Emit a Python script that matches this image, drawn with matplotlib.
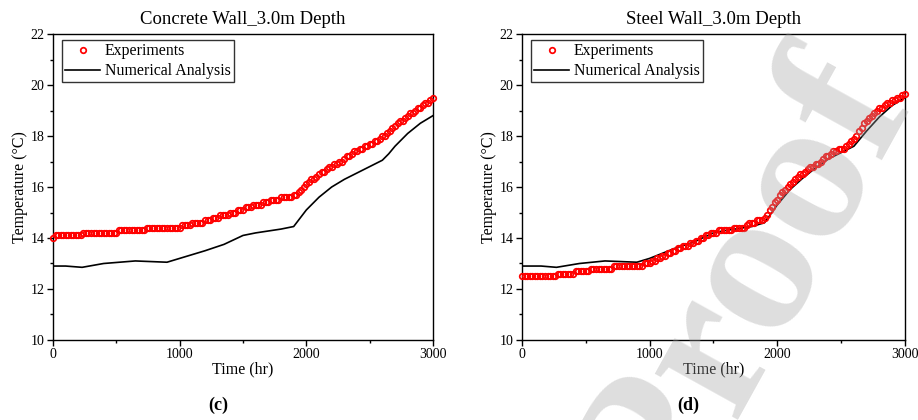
import numpy as np
import matplotlib
matplotlib.use("Agg")
import matplotlib.pyplot as plt

plt.rcParams['font.family'] = ['Liberation Serif', 'DejaVu Serif']

# measured temperatures, logged every 20 hr
exp_time = np.arange(0, 3001, 20)

concrete_exp = [
    14.0, 14.1, 14.1, 14.1, 14.1, 14.1, 14.1, 14.1, 14.1, 14.1,
    14.1, 14.1, 14.2, 14.2, 14.2, 14.2, 14.2, 14.2, 14.2, 14.2,
    14.2, 14.2, 14.2, 14.2, 14.2, 14.2, 14.3, 14.3, 14.3, 14.3,
    14.3, 14.3, 14.3, 14.3, 14.3, 14.3, 14.3, 14.4, 14.4, 14.4,
    14.4, 14.4, 14.4, 14.4, 14.4, 14.4, 14.4, 14.4, 14.4, 14.4,
    14.4, 14.5, 14.5, 14.5, 14.5, 14.6, 14.6, 14.6, 14.6, 14.6,
    14.7, 14.7, 14.7, 14.8, 14.8, 14.8, 14.9, 14.9, 14.9, 14.9,
    15.0, 15.0, 15.0, 15.1, 15.1, 15.1, 15.2, 15.2, 15.2, 15.3,
    15.3, 15.3, 15.3, 15.4, 15.4, 15.4, 15.5, 15.5, 15.5, 15.5,
    15.6, 15.6, 15.6, 15.6, 15.6, 15.7, 15.7, 15.8, 15.9, 16.0,
    16.1, 16.2, 16.3, 16.3, 16.4, 16.5, 16.6, 16.6, 16.7, 16.8,
    16.8, 16.9, 16.9, 17.0, 17.0, 17.1, 17.2, 17.2, 17.3, 17.4,
    17.4, 17.5, 17.5, 17.6, 17.6, 17.7, 17.7, 17.8, 17.8, 17.9,
    18.0, 18.0, 18.1, 18.2, 18.3, 18.4, 18.5, 18.6, 18.6, 18.7,
    18.8, 18.9, 18.9, 19.0, 19.1, 19.1, 19.2, 19.3, 19.3, 19.4,
    19.5]

steel_exp = [
    12.5, 12.5, 12.5, 12.5, 12.5, 12.5, 12.5, 12.5, 12.5, 12.5,
    12.5, 12.5, 12.5, 12.5, 12.6, 12.6, 12.6, 12.6, 12.6, 12.6,
    12.6, 12.7, 12.7, 12.7, 12.7, 12.7, 12.7, 12.8, 12.8, 12.8,
    12.8, 12.8, 12.8, 12.8, 12.8, 12.8, 12.9, 12.9, 12.9, 12.9,
    12.9, 12.9, 12.9, 12.9, 12.9, 12.9, 12.9, 12.9, 13.0, 13.0,
    13.0, 13.1, 13.1, 13.2, 13.2, 13.3, 13.3, 13.4, 13.4, 13.5,
    13.5, 13.6, 13.6, 13.7, 13.7, 13.7, 13.8, 13.8, 13.9, 13.9,
    14.0, 14.0, 14.1, 14.1, 14.2, 14.2, 14.2, 14.3, 14.3, 14.3,
    14.3, 14.3, 14.3, 14.4, 14.4, 14.4, 14.4, 14.4, 14.5, 14.6,
    14.6, 14.6, 14.7, 14.7, 14.7, 14.8, 14.9, 15.1, 15.2, 15.4,
    15.5, 15.7, 15.8, 15.9, 16.0, 16.1, 16.2, 16.3, 16.4, 16.5,
    16.5, 16.6, 16.7, 16.8, 16.8, 16.9, 16.9, 17.0, 17.1, 17.2,
    17.2, 17.3, 17.4, 17.4, 17.5, 17.5, 17.5, 17.6, 17.7, 17.8,
    17.9, 18.0, 18.2, 18.3, 18.5, 18.6, 18.7, 18.8, 18.9, 19.0,
    19.1, 19.1, 19.2, 19.3, 19.3, 19.4, 19.4, 19.5, 19.5, 19.6,
    19.65]

# simulated temperatures
concrete_num_t = [0, 100, 230, 400, 650, 900, 1000, 1200, 1350, 1500, 1600,
                  1800, 1900, 2000, 2100, 2200, 2300, 2400, 2500, 2600, 2650,
                  2700, 2800, 2900, 3000]
concrete_num = [12.9, 12.9, 12.85, 13.0, 13.1, 13.05, 13.2, 13.5, 13.75, 14.1,
                14.2, 14.35, 14.45, 15.1, 15.6, 16.0, 16.3, 16.55, 16.8, 17.05,
                17.3, 17.6, 18.1, 18.5, 18.8]

steel_num_t = [0, 150, 270, 450, 650, 900, 1000, 1200, 1350, 1500, 1600,
               1800, 1900, 2000, 2100, 2200, 2300, 2400, 2500, 2600, 2700,
               2800, 2900, 3000]
steel_num = [12.9, 12.9, 12.85, 13.0, 13.1, 13.05, 13.2, 13.6, 13.85, 14.2,
             14.3, 14.45, 14.6, 15.3, 15.9, 16.35, 16.75, 17.1, 17.35, 17.6,
             18.2, 18.75, 19.2, 19.5]

panels = [
    ("Concrete Wall_3.0m Depth", "(c)", concrete_exp, concrete_num_t, concrete_num),
    ("Steel Wall_3.0m Depth", "(d)", steel_exp, steel_num_t, steel_num),
]

fig = plt.figure(figsize=(9.18, 4.2), dpi=100)
axes = [fig.add_axes([0.0577, 0.1905, 0.414, 0.7285]),
        fig.add_axes([0.5686, 0.1905, 0.4172, 0.7285])]

for ax, (title, tag, exp, nt, nv) in zip(axes, panels):
    ax.plot(exp_time, exp, 'o', color='red', mfc='none', ms=4.0, mew=1.25,
            label='Experiments', clip_on=False, zorder=3)
    ax.plot(nt, nv, '-', color='black', lw=1.2, label='Numerical Analysis', zorder=2)
    ax.set_xlim(0, 3000)
    ax.set_ylim(10, 22)
    ax.set_xticks([0, 1000, 2000, 3000])
    ax.set_xticks([500, 1500, 2500], minor=True)
    ax.set_yticks([10, 12, 14, 16, 18, 20, 22])
    ax.set_yticks(np.arange(11, 22, 2), minor=True)
    ax.tick_params(direction='out', length=4, width=1, labelsize=10, pad=2,
                   top=False, right=False)
    ax.tick_params(which='minor', direction='out', length=2.5, width=1,
                   top=False, right=False)
    for sp in ax.spines.values():
        sp.set_linewidth(1)
    ax.set_title(title, fontsize=13.5, pad=7)
    ax.set_xlabel('Time (hr)', fontsize=11.5, labelpad=0)
    ax.set_ylabel('Temperature (\u00b0C)', fontsize=11.5, labelpad=2)
    leg = ax.legend(loc='upper left', bbox_to_anchor=(0.024, 0.98), fontsize=11.4,
                    frameon=True, fancybox=False, borderpad=0.2, handlelength=2.2,
                    handletextpad=0.3, labelspacing=0.25, borderaxespad=0,
                    numpoints=1)
    leg.get_frame().set_edgecolor('black')
    leg.get_frame().set_linewidth(1)
    bb = ax.get_position()
    fig.text((bb.x0 + bb.x1) / 2 - 0.027, 0.035, tag, fontsize=13,
             fontweight='bold', ha='center', va='center')

# proof watermark laid over the right panel
fig.text(0.815, 0.305, 'Proof', fontsize=150, fontweight='bold', color='#a0a0a0',
         alpha=0.35, rotation=61, rotation_mode='anchor', ha='center', va='center',
         zorder=10)

fig.savefig('out.png', dpi=100)
